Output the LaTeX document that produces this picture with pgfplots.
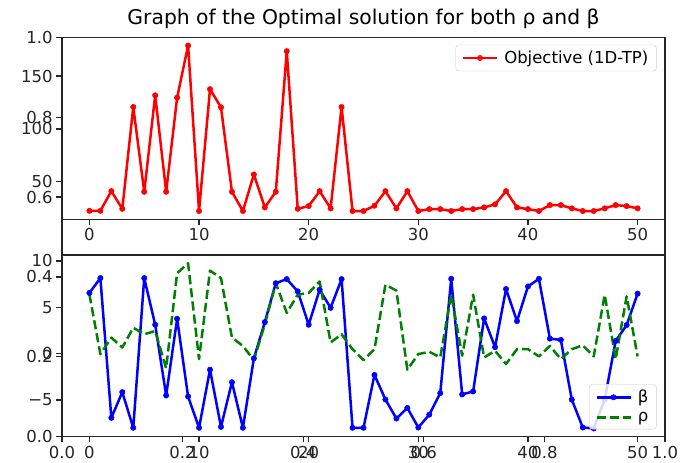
\documentclass[border=0pt]{standalone}
\usepackage{pgfplots}
\pgfplotsset{compat=1.18}
\usepackage{fontspec}
\setmainfont{DejaVu Sans}
\newcommand{\tickfont}{\fontsize{16.5}{19}\selectfont}
\definecolor{mplgreen}{rgb}{0,0.5,0}
\begin{document}
\begin{tikzpicture}
\useasboundingbox (0pt,0pt) rectangle (691pt,463pt);
\pgfplotsset{
  every axis/.append style={
    scale only axis, anchor=south west,
    axis line style={line width=1.3pt, black!85},
    every tick/.style={line width=1.3pt, black!85},
    tick align=outside, major tick length=5.8pt,
    xtick pos=left, ytick pos=left,
    tick label style={font=\tickfont, text=black!85},
    /pgf/number format/assume math mode=true,
  },
  mylegend/.style={
    legend style={draw=black!20, rounded corners=3pt, fill=white, fill opacity=0.85, text opacity=1, font=\tickfont,
      inner xsep=6pt, inner ysep=4pt, row sep=4pt, column sep=4pt},
    legend cell align=left,
    legend image code/.code={\draw[mark repeat=2,mark phase=2] plot coordinates {(0pt,0pt) (17pt,0pt) (34pt,0pt)};},
  },
}
% background axis
\begin{axis}[at={(62pt,26.3pt)}, width=603pt, height=399.4pt,
  xmin=0, xmax=1, ymin=0, ymax=1,
  xtick={0,0.2,0.4,0.6,0.8,1}, xticklabels={0.0,0.2,0.4,0.6,0.8,1.0},
  ytick={0,0.2,0.4,0.6,0.8,1}, yticklabels={0.0,0.2,0.4,0.6,0.8,1.0}]
\end{axis}
% top subplot
\begin{axis}[at={(62pt,243.7pt)}, width=603pt, height=182pt,
  xmin=-2.5, xmax=52.5, ymin=14.575, ymax=186.725,
  xtick={0,10,20,30,40,50}, ytick={50,100,150},
  axis background/.style={fill=white},
  title={Graph of the Optimal solution for both ρ and β},
  title style={font=\fontsize{20.3}{24}\selectfont, yshift=-1pt},
  mylegend,
  legend style={at={(1,1)}, anchor=north east, xshift=-8.5pt, yshift=-7.5pt},
]
\addplot[red, line width=2.5pt, line join=round, mark=*, mark size=2.7pt, mark options={line width=0.5pt, solid}] coordinates {
(0,22.6) (1,22.6) (2,41.2) (3,24.5) (4,120.8) (5,40.6) (6,131.8) (7,40.6) (8,129.6) (9,178.9)
(10,22.4) (11,137.7) (12,120.5) (13,40.6) (14,22.4) (15,57) (16,25.8) (17,40.6) (18,173.6) (19,24.5)
(20,27.1) (21,41.2) (22,24.9) (23,120.8) (24,22.4) (25,22.4) (26,27.4) (27,41.2) (28,24.9) (29,41.2)
(30,22.4) (31,24.2) (32,24.2) (33,22.4) (34,24.2) (35,24.2) (36,25.8) (37,28.7) (38,41.2) (39,25.8)
(40,24.2) (41,22.4) (42,28) (43,28) (44,24.9) (45,22.4) (46,22.4) (47,24.9) (48,28) (49,27.1) (50,24.9)
};
\addlegendentry{Objective (1D-TP)}
\end{axis}
% bottom subplot
\begin{axis}[at={(62pt,26.3pt)}, width=603pt, height=181.7pt,
  xmin=-2.5, xmax=52.5, ymin=-8.961, ymax=10.641,
  xtick={0,10,20,30,40,50}, ytick={-5,0,5,10}, yticklabels={−5,0,5,10},
  axis background/.style={fill=white},
  mylegend,
  legend style={at={(1,0)}, anchor=south east, xshift=-8.5pt, yshift=7.4pt},
]
\addplot[blue, line width=2.5pt, line join=round, mark=*, mark size=2.7pt, mark options={line width=0.5pt, solid}] coordinates {
(0,6.55) (1,8.15) (2,-6.93) (3,-4.15) (4,-8.0) (5,8.15) (6,3.12) (7,-4.51) (8,3.76) (9,-4.62)
(10,-8.0) (11,-1.73) (12,-7.9) (13,-3.08) (14,-8.0) (15,-0.51) (16,3.4) (17,7.6) (18,8.04) (19,6.72)
(20,3.12) (21,6.9) (22,4.94) (23,8.04) (24,-8.0) (25,-8.0) (26,-2.3) (27,-4.95) (28,-7.0) (29,-5.86)
(30,-7.97) (31,-6.58) (32,-4.26) (33,8.07) (34,-4.4) (35,-4.08) (36,3.8) (37,0.7) (38,6.97) (39,3.51)
(40,7.25) (41,8.07) (42,1.62) (43,1.48) (44,-4.97) (45,-7.97) (46,-8.07) (47,-4.94) (48,1.37) (49,3.08) (50,6.47)
};
\addlegendentry{β}
\addplot[mplgreen, line width=2.5pt, line join=round, dash pattern=on 9.2pt off 4pt] coordinates {
(0,6.4) (1,-0.05) (2,1.73) (3,0.66) (4,2.8) (5,2.09) (6,2.44) (7,-1.58) (8,8.68) (9,9.75)
(10,-0.59) (11,8.96) (12,8.15) (13,1.73) (14,0.83) (15,-0.7) (16,3.16) (17,7.6) (18,4.4) (19,6.36)
(20,6.55) (21,7.79) (22,1.2) (23,2.09) (24,0.48) (25,-0.7) (26,0.48) (27,7.43) (28,6.8) (29,-1.73)
(30,-0.05) (31,0.2) (32,-0.41) (33,6.36) (34,-0.23) (35,6.36) (36,-0.41) (37,0.3) (38,-1.12) (39,0.48)
(40,0.48) (41,-0.3) (42,0.83) (43,-0.59) (44,0.48) (45,0.9) (46,-0.3) (47,6.36) (48,-0.59) (49,6.18) (50,-0.3)
};
\addlegendentry{ρ}
\end{axis}
\end{tikzpicture}
\end{document}
